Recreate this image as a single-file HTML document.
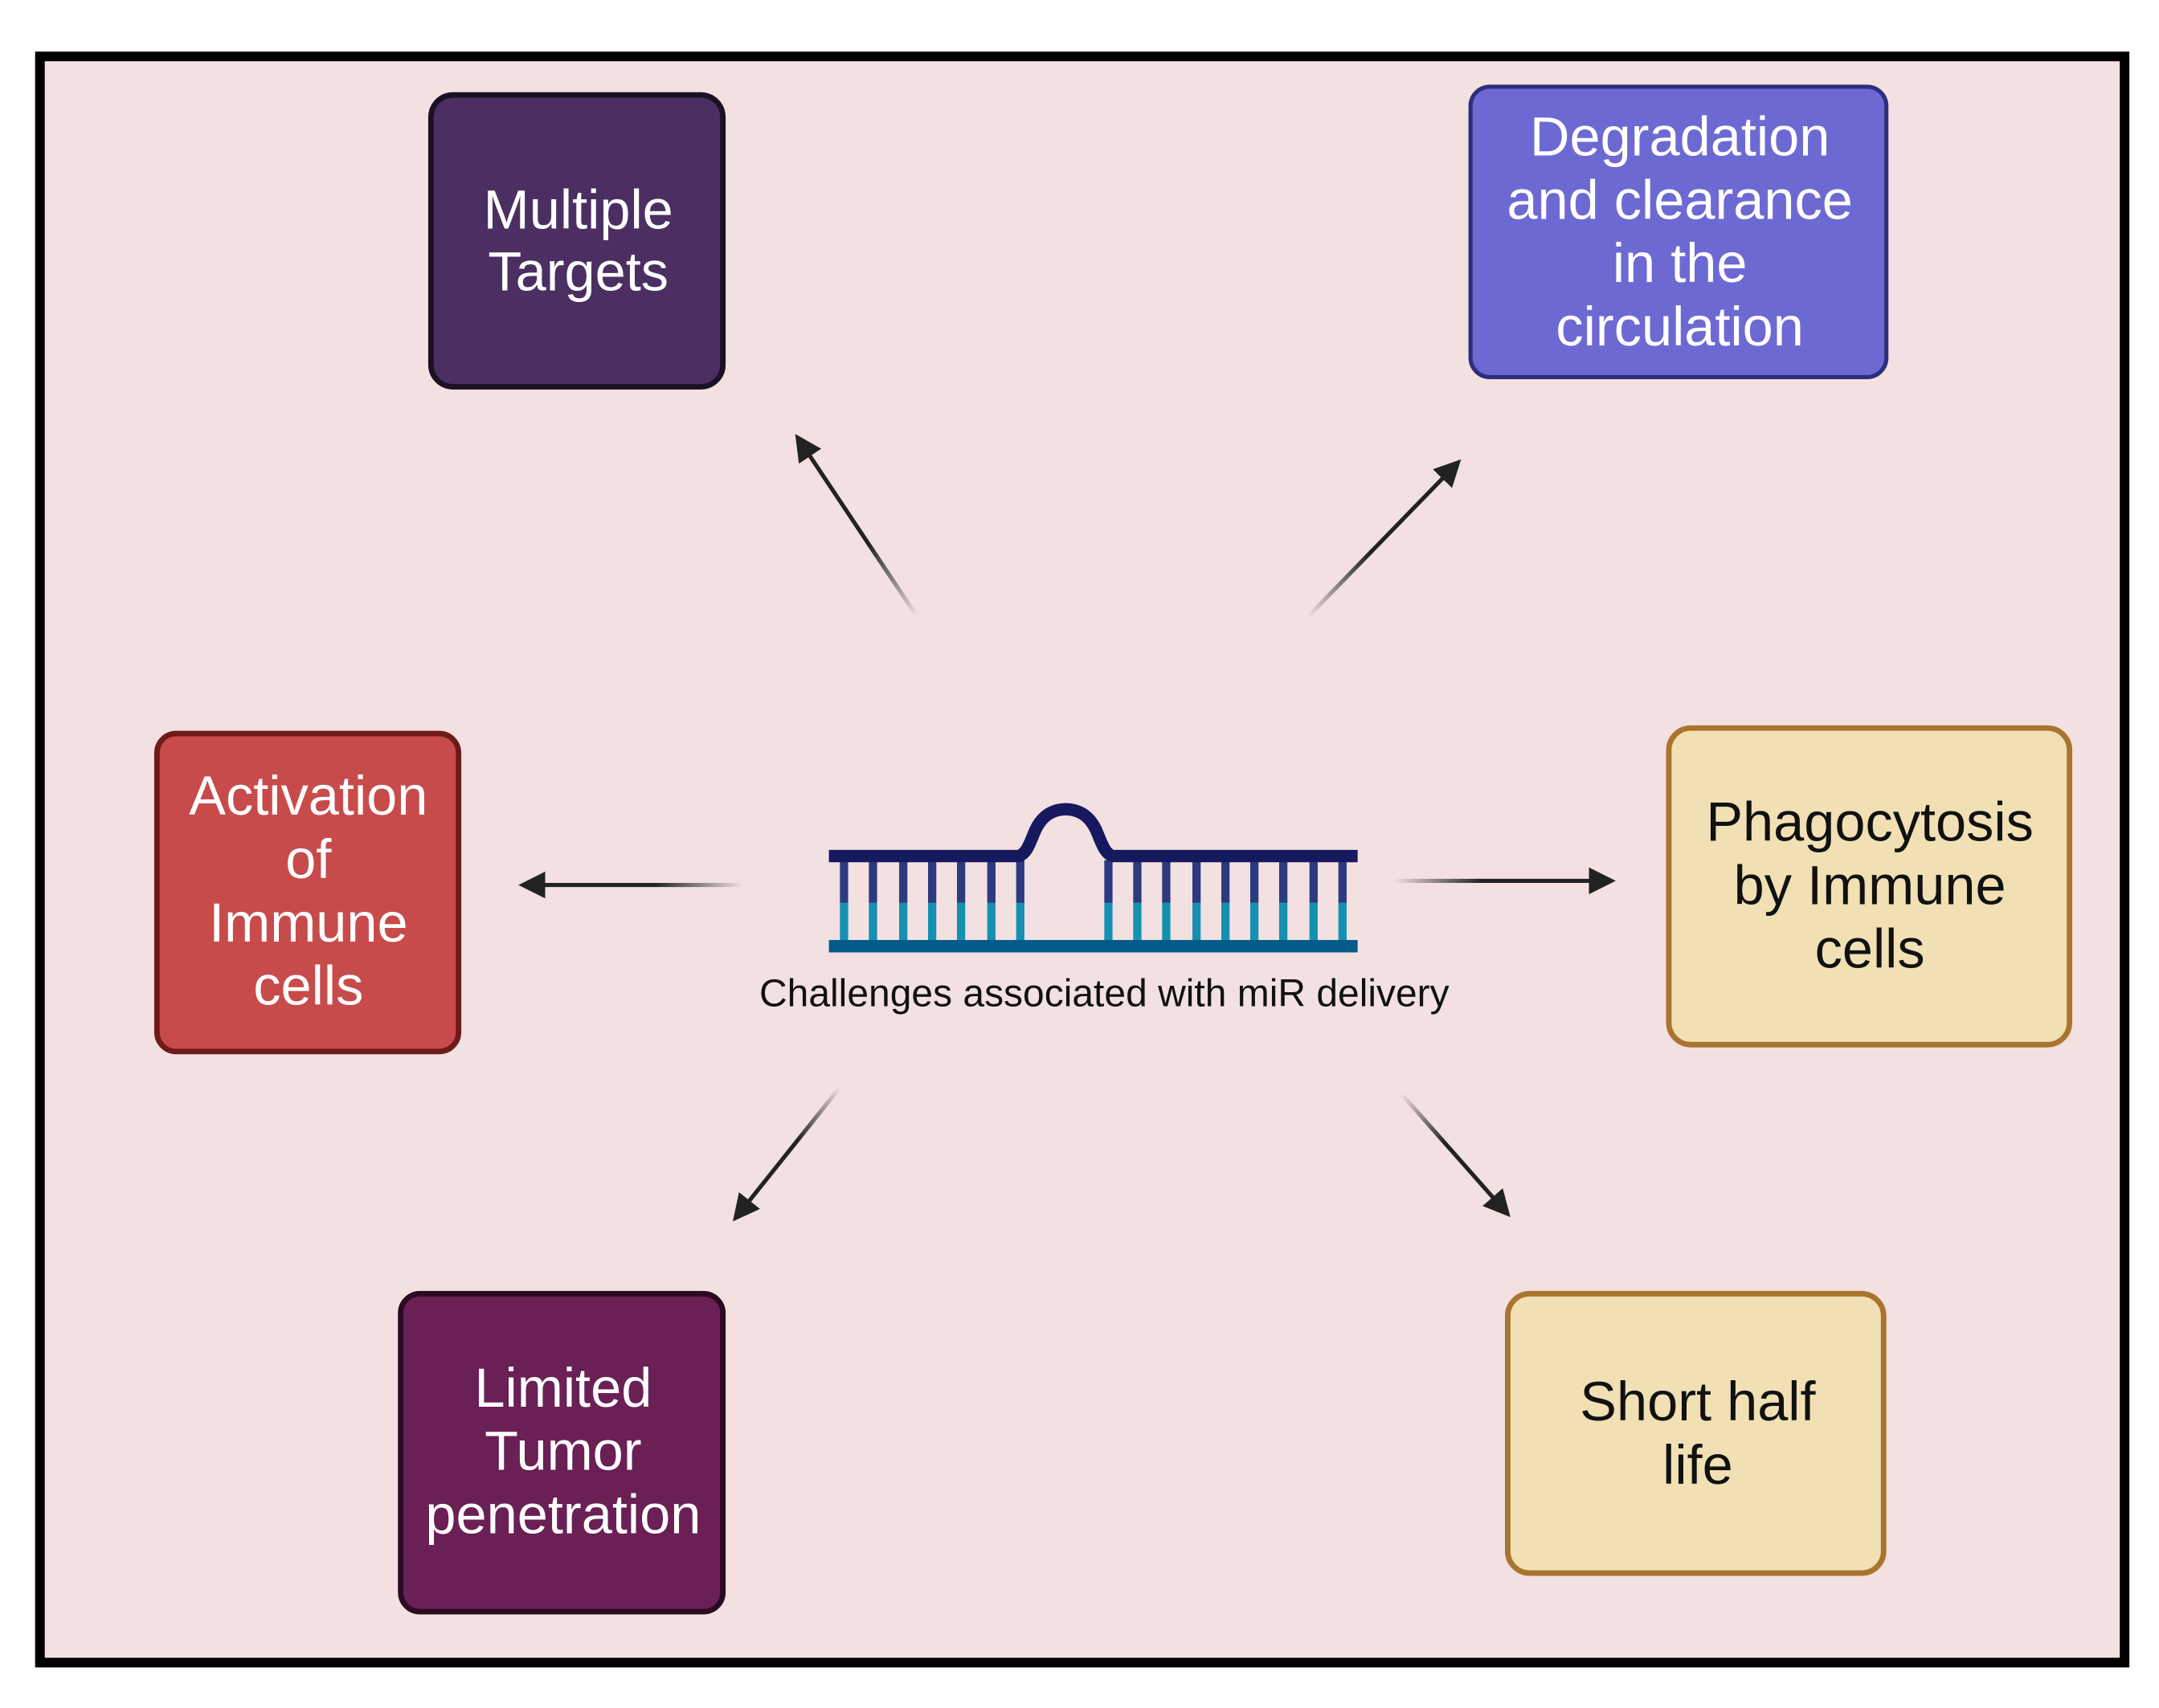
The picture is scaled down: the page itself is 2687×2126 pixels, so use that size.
<!DOCTYPE html>
<html><head><meta charset="utf-8"><style>
html,body{margin:0;padding:0;background:#fff;width:2687px;height:2126px;overflow:hidden}
svg{display:block}
text{font-family:"Liberation Sans",sans-serif}
</style></head><body>
<svg width="2687" height="2126" viewBox="0 0 1568 1241" preserveAspectRatio="none" xmlns="http://www.w3.org/2000/svg">
<defs>
<marker id="ah" markerWidth="6.5" markerHeight="6.5" refX="5" refY="3.25" orient="auto" markerUnits="strokeWidth">
<path d="M0,0 L6.5,3.25 L0,6.5 z" fill="#222"/></marker>
<linearGradient id="g1" gradientUnits="userSpaceOnUse" x1="666" y1="448" x2="578" y2="316"><stop offset="0" stop-color="#222" stop-opacity="0"/><stop offset="0.4" stop-color="#222"/></linearGradient>
<linearGradient id="g2" gradientUnits="userSpaceOnUse" x1="950" y1="448" x2="1060" y2="335"><stop offset="0" stop-color="#222" stop-opacity="0"/><stop offset="0.4" stop-color="#222"/></linearGradient>
<linearGradient id="g3" gradientUnits="userSpaceOnUse" x1="540" y1="643" x2="378" y2="643"><stop offset="0" stop-color="#222" stop-opacity="0"/><stop offset="0.4" stop-color="#222"/></linearGradient>
<linearGradient id="g4" gradientUnits="userSpaceOnUse" x1="1012" y1="640" x2="1172" y2="640"><stop offset="0" stop-color="#222" stop-opacity="0"/><stop offset="0.4" stop-color="#222"/></linearGradient>
<linearGradient id="g5" gradientUnits="userSpaceOnUse" x1="610" y1="790" x2="533" y2="887"><stop offset="0" stop-color="#222" stop-opacity="0"/><stop offset="0.4" stop-color="#222"/></linearGradient>
<linearGradient id="g6" gradientUnits="userSpaceOnUse" x1="1018" y1="795" x2="1096" y2="883"><stop offset="0" stop-color="#222" stop-opacity="0"/><stop offset="0.4" stop-color="#222"/></linearGradient>
</defs>
<rect x="0" y="0" width="1568" height="1241" fill="#fff"/>
<rect x="29" y="41" width="1514" height="1167" fill="#f3e1e1" stroke="#000" stroke-width="7"/>

<rect x="313" y="69" width="212" height="212" rx="16" fill="#4b2f62" stroke="#1c1024" stroke-width="4"/>
<text fill="#fff" font-size="40" text-anchor="middle"><tspan x="420" y="166">Multiple</tspan><tspan x="420" y="211">Targets</tspan></text>

<rect x="1068" y="63" width="302" height="211" rx="14" fill="#6c6ad2" stroke="#2f2d7c" stroke-width="3"/>
<text fill="#fff" font-size="40" text-anchor="middle"><tspan x="1220" y="113">Degradation</tspan><tspan x="1220" y="159">and clearance</tspan><tspan x="1220" y="205">in the</tspan><tspan x="1220" y="251">circulation</tspan></text>

<rect x="114" y="533" width="219" height="231" rx="14" fill="#c84b4b" stroke="#6e1a1a" stroke-width="4"/>
<text fill="#fff" font-size="40" text-anchor="middle"><tspan x="224" y="592">Activation</tspan><tspan x="224" y="638">of</tspan><tspan x="224" y="684">Immune</tspan><tspan x="224" y="730">cells</tspan></text>

<rect x="1212" y="529" width="291" height="230" rx="16" fill="#f0e0b4" stroke="#a8742e" stroke-width="4"/>
<text fill="#111" font-size="40" text-anchor="middle"><tspan x="1358" y="611">Phagocytosis</tspan><tspan x="1358" y="657">by Immune</tspan><tspan x="1358" y="703">cells</tspan></text>

<rect x="291" y="940" width="234" height="231" rx="14" fill="#6a1f55" stroke="#2c0a22" stroke-width="4"/>
<text fill="#fff" font-size="40" text-anchor="middle"><tspan x="409" y="1022">Limited</tspan><tspan x="409" y="1068">Tumor</tspan><tspan x="409" y="1114">penetration</tspan></text>

<rect x="1095" y="940" width="273" height="203" rx="16" fill="#f0e0b4" stroke="#a8742e" stroke-width="4"/>
<text fill="#111" font-size="40" text-anchor="middle"><tspan x="1233" y="1032">Short half</tspan><tspan x="1233" y="1078">life</tspan></text>

<g stroke-width="3" fill="none">
<line x1="666" y1="448" x2="580" y2="319" stroke="url(#g1)" marker-end="url(#ah)"/>
<line x1="950" y1="448" x2="1058" y2="337" stroke="url(#g2)" marker-end="url(#ah)"/>
<line x1="540" y1="643" x2="381" y2="643.01" stroke="url(#g3)" marker-end="url(#ah)"/>
<line x1="1012" y1="640" x2="1169" y2="640.01" stroke="url(#g4)" marker-end="url(#ah)"/>
<line x1="610" y1="790" x2="535" y2="884" stroke="url(#g5)" marker-end="url(#ah)"/>
<line x1="1018" y1="795" x2="1094" y2="881" stroke="url(#g6)" marker-end="url(#ah)"/>
</g>

<g>
<g stroke-width="6">
<g stroke="#2c3a80">
<line x1="613" y1="625" x2="613" y2="656"/><line x1="634" y1="625" x2="634" y2="656"/><line x1="656" y1="625" x2="656" y2="656"/><line x1="677" y1="625" x2="677" y2="656"/><line x1="698" y1="625" x2="698" y2="656"/><line x1="720" y1="625" x2="720" y2="656"/><line x1="741" y1="625" x2="741" y2="656"/>
<line x1="805" y1="625" x2="805" y2="656"/><line x1="826" y1="625" x2="826" y2="656"/><line x1="847" y1="625" x2="847" y2="656"/><line x1="869" y1="625" x2="869" y2="656"/><line x1="890" y1="625" x2="890" y2="656"/><line x1="911" y1="625" x2="911" y2="656"/><line x1="932" y1="625" x2="932" y2="656"/><line x1="954" y1="625" x2="954" y2="656"/><line x1="975" y1="625" x2="975" y2="656"/>
</g>
<g stroke="#1690b0">
<line x1="613" y1="656" x2="613" y2="685"/><line x1="634" y1="656" x2="634" y2="685"/><line x1="656" y1="656" x2="656" y2="685"/><line x1="677" y1="656" x2="677" y2="685"/><line x1="698" y1="656" x2="698" y2="685"/><line x1="720" y1="656" x2="720" y2="685"/><line x1="741" y1="656" x2="741" y2="685"/>
<line x1="805" y1="656" x2="805" y2="685"/><line x1="826" y1="656" x2="826" y2="685"/><line x1="847" y1="656" x2="847" y2="685"/><line x1="869" y1="656" x2="869" y2="685"/><line x1="890" y1="656" x2="890" y2="685"/><line x1="911" y1="656" x2="911" y2="685"/><line x1="932" y1="656" x2="932" y2="685"/><line x1="954" y1="656" x2="954" y2="685"/><line x1="975" y1="656" x2="975" y2="685"/>
</g>
</g>
<path d="M602,622 L740,622 C746,620 748,612 752,603 C758,590 768,588 774,588 C780,588 790,590 796,603 C800,612 802,620 808,622 L986,622" stroke="#16195e" stroke-width="9" fill="none"/>
<rect x="602" y="683" width="384" height="9" fill="#045a88"/>
</g>
<text x="802" y="731" font-size="28" fill="#111" text-anchor="middle">Challenges associated with miR delivery</text>
</svg>
</body></html>
